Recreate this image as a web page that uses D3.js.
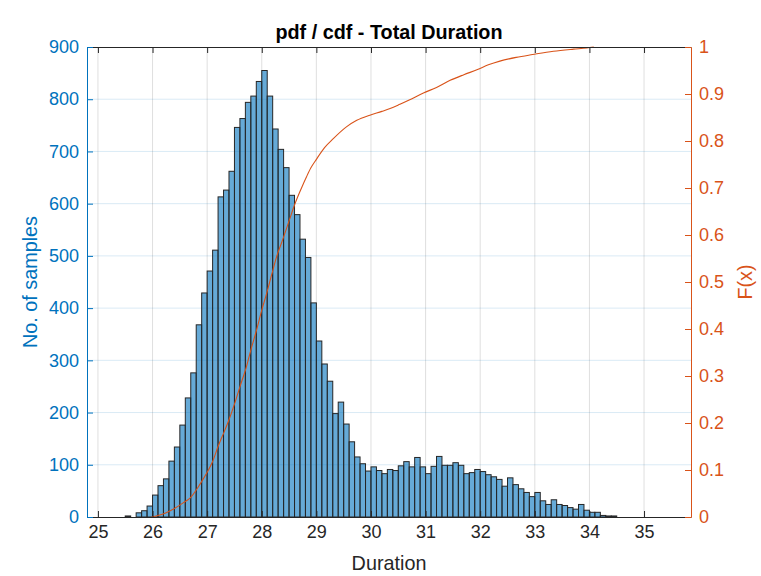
<!DOCTYPE html>
<html>
<head>
<meta charset="utf-8">
<script src="https://cdn.jsdelivr.net/npm/d3@7/dist/d3.min.js"></script>
<style>
  html, body { margin: 0; padding: 0; background: #fff; }
  svg { display: block; font-family: "Liberation Sans", Arial, Helvetica, sans-serif; }
</style>
</head>
<body>
<svg id="chart" width="761" height="576"></svg>
<script>
// ---------------- data ----------------
const title = "pdf / cdf - Total Duration";
const xLabel = "Duration";
const yLeftLabel = "No. of samples";
const yRightLabel = "F(x)";

const binFirst = 25.5;
const binWidth = 0.1;
const counts = [
  2, 0, 8, 12, 21,
  42, 60, 73, 107, 134, 176, 228, 276, 368, 429,
  471, 511, 613, 626, 662, 746, 763, 794, 806, 834,
  855, 806, 743, 704, 669, 616, 579, 532, 497, 410,
  337, 293, 260, 198, 220, 178, 144, 115, 102, 88,
  96, 89, 83, 91, 89, 98, 106, 96, 114, 96,
  83, 97, 116, 99, 99, 104, 99, 83, 85, 91,
  87, 81, 77, 72, 59, 75, 62, 54, 47, 39,
  47, 31, 24, 33, 24, 22, 18, 15, 24, 13,
  9, 9, 3, 2, 2
];

const cdfX = [25.98, 26.1, 26.25, 26.4, 26.56, 26.7, 26.87, 27.0, 27.1, 27.2, 27.3, 27.4, 27.5, 27.6, 27.72, 27.8, 27.91, 28.0, 28.09, 28.18, 28.27, 28.38, 28.5, 28.61, 28.72, 28.82, 28.9, 29.0, 29.15, 29.31, 29.55, 29.74, 29.98, 30.2, 30.35, 30.53, 30.7, 30.96, 31.2, 31.45, 31.7, 31.95, 32.15, 32.36, 32.66, 32.96, 33.34, 33.71, 33.95, 34.08];
const cdfF = [0, 0.003, 0.009, 0.018, 0.030, 0.042, 0.070, 0.095, 0.118, 0.150, 0.178, 0.207, 0.240, 0.277, 0.320, 0.355, 0.400, 0.440, 0.476, 0.515, 0.553, 0.589, 0.630, 0.667, 0.698, 0.724, 0.743, 0.761, 0.786, 0.805, 0.830, 0.844, 0.855, 0.863, 0.869, 0.878, 0.887, 0.902, 0.914, 0.929, 0.941, 0.952, 0.962, 0.970, 0.978, 0.984, 0.991, 0.9955, 0.998, 1.0];

const xTicks = [25, 26, 27, 28, 29, 30, 31, 32, 33, 34, 35];
const yLeftTicks = [0, 100, 200, 300, 400, 500, 600, 700, 800, 900];
const yRightTicks = [0, 0.1, 0.2, 0.3, 0.4, 0.5, 0.6, 0.7, 0.8, 0.9, 1];

// ---------------- layout ----------------
const blue = "#0072BD";
const orange = "#D95319";
const dark = "#262626";
const L = 87, R = 691, T = 47, B = 517;

const svg = d3.select("#chart");
const x = d3.scaleLinear().domain([24.8, 35.86]).range([L, R]);
const yL = d3.scaleLinear().domain([0, 900]).range([B, T]);
const yR = d3.scaleLinear().domain([0, 1]).range([B, T]);

// grid
const grid = svg.append("g");
grid.selectAll("line.vx").data(xTicks).join("line")
  .attr("x1", d => x(d)).attr("x2", d => x(d))
  .attr("y1", T).attr("y2", B)
  .attr("stroke", dark).attr("stroke-opacity", 0.15).attr("stroke-width", 1);
grid.selectAll("line.hy").data(yLeftTicks.filter(d => d > 0 && d < 900)).join("line")
  .attr("x1", L).attr("x2", R)
  .attr("y1", d => yL(d)).attr("y2", d => yL(d))
  .attr("stroke", blue).attr("stroke-opacity", 0.15).attr("stroke-width", 1);

// bars
const bins = counts.map((c, i) => ({ x0: +(binFirst + i * binWidth).toFixed(2), c }));
svg.append("g").selectAll("rect").data(bins).join("rect")
  .attr("x", d => x(d.x0))
  .attr("width", d => x(d.x0 + binWidth) - x(d.x0))
  .attr("y", d => yL(d.c))
  .attr("height", d => yL(0) - yL(d.c))
  .attr("fill", blue).attr("fill-opacity", 0.6)
  .attr("stroke", dark).attr("stroke-width", 1);

// cdf
const line = d3.line().x(d => x(d[0])).y(d => yR(d[1])).curve(d3.curveMonotoneX);
svg.append("path")
  .datum(cdfX.map((v, i) => [v, cdfF[i]]))
  .attr("d", line)
  .attr("fill", "none").attr("stroke", orange).attr("stroke-width", 1.1);

// axes
const fs = 18;
function styleAxis(g, color) {
  g.select(".domain").attr("stroke", color).attr("stroke-width", 1);
  g.selectAll(".tick line").attr("stroke", color);
  g.selectAll(".tick text").attr("fill", color).attr("font-size", fs)
    .attr("font-family", "'Liberation Sans', Arial, Helvetica, sans-serif");
}
const gx = svg.append("g").attr("transform", `translate(0,${B})`)
  .call(d3.axisBottom(x).tickValues(xTicks).tickSize(-6).tickSizeOuter(0).tickPadding(8).tickFormat(d3.format("d")));
styleAxis(gx, dark);
gx.selectAll(".tick text").attr("dy", "0.71em");

const gxt = svg.append("g").attr("transform", `translate(0,${T})`)
  .call(d3.axisTop(x).tickValues(xTicks).tickSize(-6).tickSizeOuter(0).tickFormat(""));
styleAxis(gxt, dark);

const gyl = svg.append("g").attr("transform", `translate(${L},0)`)
  .call(d3.axisLeft(yL).tickValues(yLeftTicks).tickSize(-6).tickSizeOuter(0).tickPadding(8).tickFormat(d3.format("d")));
styleAxis(gyl, blue);

const gyr = svg.append("g").attr("transform", `translate(${R},0)`)
  .call(d3.axisRight(yR).tickValues(yRightTicks).tickSize(-6).tickSizeOuter(0).tickPadding(8).tickFormat(d => d === 0 || d === 1 ? String(d) : d3.format(".1f")(d)));
styleAxis(gyr, orange);

// labels
svg.append("text").attr("x", (L + R) / 2).attr("y", 39)
  .attr("text-anchor", "middle").attr("font-size", 19.8).attr("font-weight", "bold")
  .attr("fill", "#000").text(title);
svg.append("text").attr("x", (L + R) / 2).attr("y", 570)
  .attr("text-anchor", "middle").attr("font-size", 19.8).attr("fill", dark).text(xLabel);
svg.append("text").attr("transform", `translate(37,${(T + B) / 2}) rotate(-90)`)
  .attr("text-anchor", "middle").attr("font-size", 19.8).attr("fill", blue).text(yLeftLabel);
svg.append("text").attr("transform", `translate(752,${(T + B) / 2}) rotate(-90)`)
  .attr("text-anchor", "middle").attr("font-size", 19.8).attr("fill", orange).text(yRightLabel);
</script>
</body>
</html>
